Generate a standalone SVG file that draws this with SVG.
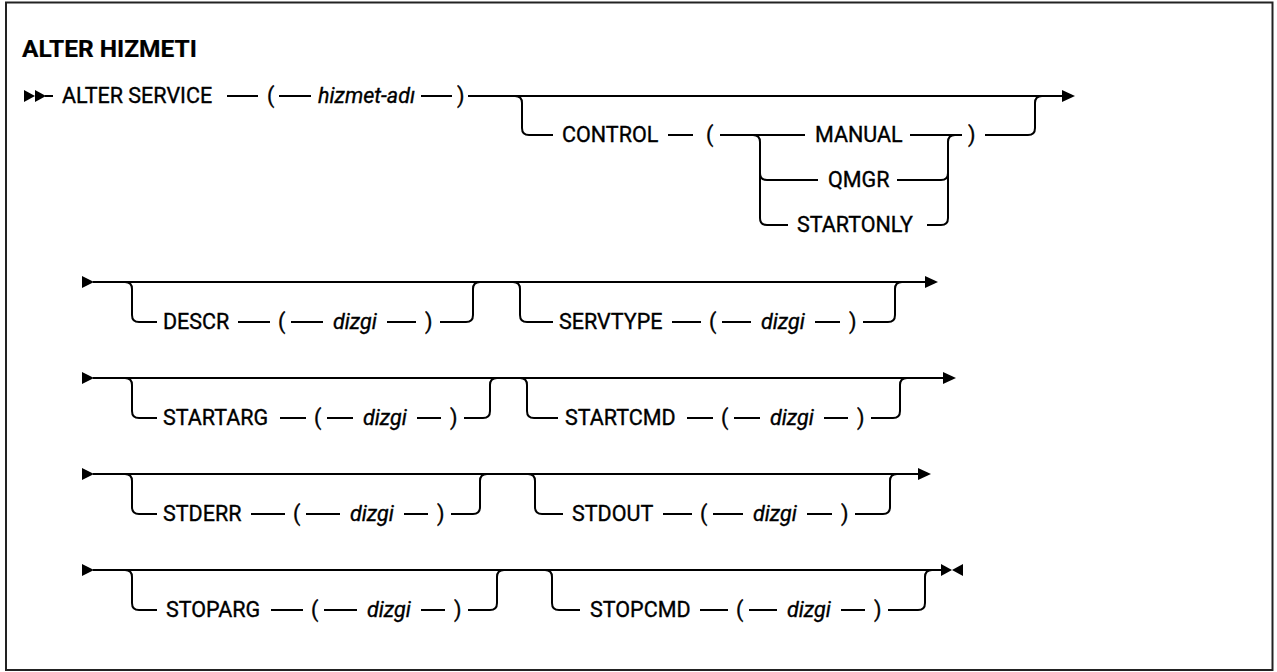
<svg xmlns="http://www.w3.org/2000/svg" width="1277" height="672" viewBox="0 0 1277 672">
<style>
.t{font-family:Roboto,"Liberation Sans",sans-serif;font-size:21.5px;fill:#000;stroke:#000;stroke-width:0.35px}
.v{font-style:italic}
.h{font-weight:bold;font-size:24.5px;stroke-width:0.2px}
.c{fill:none;stroke:#000;stroke-width:2}
.a{fill:#000}
</style>
<rect x="6" y="2.5" width="1266.5" height="667.5" fill="#fff" stroke="#222" stroke-width="2"/>
<text class="t h" x="22" y="57">ALTER HIZMETI</text>
<g id="connectors">
<!-- row 1 -->
<polygon class="a" points="24,90 35,96 24,102"/>
<polygon class="a" points="35,90 46,96 35,102"/>
<path class="c" d="M45 96H53M227 96H258M279 96H311M421 96H452M468 96H1062"/>
<polygon class="a" points="1062,90 1075,96 1062,102"/>
<path class="c" d="M515 96Q522 96 522 103V128Q522 135 529 135H553M668 135H693M720 135H805"/>
<path class="c" d="M753 135Q760 135 760 142V218Q760 225 767 225H788M760 173Q760 180 767 180H818"/>
<path class="c" d="M910 135H962M897 180H941Q948 180 948 173M927 225H941Q948 225 948 218V142Q948 135 955 135"/>
<path class="c" d="M985 135H1028Q1035 135 1035 128V103Q1035 96 1042 96"/>
<!-- row 2 -->
<polygon class="a" points="82,276 94,282 82,288"/>
<path class="c" d="M93 282H925"/>
<polygon class="a" points="925,276 938,282 925,288"/>
<path class="c" d="M125 282Q132 282 132 289V315Q132 322 139 322H157M238 322H270M291 322H323M387 322H416M440 322H466Q473 322 473 315V289Q473 282 480 282"/>
<path class="c" d="M513 282Q520 282 520 289V315Q520 322 527 322H553M672 322H701M722 322H751M815 322H840M863 322H888Q895 322 895 315V289Q895 282 902 282"/>
<!-- row 3 -->
<polygon class="a" points="82,372 94,378 82,384"/>
<path class="c" d="M93 378H943"/>
<polygon class="a" points="943,372 956,378 943,384"/>
<path class="c" d="M125 378Q132 378 132 385V411Q132 418 139 418H157M280 418H306M327 418H353M417 418H441M464 418H483Q490 418 490 411V385Q490 378 497 378"/>
<path class="c" d="M520 378Q527 378 527 385V411Q527 418 534 418H558M687 418H713M734 418H760M824 418H848M871 418H893Q900 418 900 411V385Q900 378 907 378"/>
<!-- row 4 -->
<polygon class="a" points="82,468 94,474 82,480"/>
<path class="c" d="M93 474H918"/>
<polygon class="a" points="918,468 931,474 918,480"/>
<path class="c" d="M125 474Q132 474 132 481V507Q132 514 139 514H157M251 514H285M306 514H340M404 514H428M451 514H473Q480 514 480 507V481Q480 474 487 474"/>
<path class="c" d="M528 474Q535 474 535 481V507Q535 514 542 514H563M663 514H692M713 514H743M807 514H832M855 514H883Q890 514 890 507V481Q890 474 897 474"/>
<!-- row 5 -->
<polygon class="a" points="82,564 94,570 82,576"/>
<path class="c" d="M93 570H942"/>
<polygon class="a" points="941,564 952,570 941,576"/>
<polygon class="a" points="963,564 952,570 963,576"/>
<path class="c" d="M125 570Q132 570 132 577V603Q132 610 139 610H157M271 610H303M324 610H357M421 610H445M468 610H490Q497 610 497 603V577Q497 570 504 570"/>
<path class="c" d="M545 570Q552 570 552 577V603Q552 610 559 610H580M700 610H728M749 610H777M841 610H865M888 610H918Q925 610 925 603V577Q925 570 932 570"/>
</g>
<g id="n-alter-service">
<text class="t" x="62" y="103">ALTER SERVICE</text>
<text class="t" x="267" y="103">(</text>
<text class="t v" x="318" y="103">hizmet-adı</text>
<text class="t" x="457" y="103">)</text>
</g>
<g id="n-control">
<text class="t" x="562" y="142">CONTROL</text>
<text class="t" x="706" y="142">(</text>
<text class="t" x="968" y="142">)</text>
</g>
<g id="n-manual"><text class="t" x="815" y="142">MANUAL</text></g>
<g id="n-qmgr"><text class="t" x="828" y="187">QMGR</text></g>
<g id="n-startonly"><text class="t" x="797" y="232">STARTONLY</text></g>
<g id="n-descr">
<text class="t" x="163" y="329">DESCR</text>
<text class="t" x="278" y="329">(</text>
<text class="t v" x="333" y="329">dizgi</text>
<text class="t" x="425" y="329">)</text>
</g>
<g id="n-servtype">
<text class="t" x="559" y="329">SERVTYPE</text>
<text class="t" x="709" y="329">(</text>
<text class="t v" x="761" y="329">dizgi</text>
<text class="t" x="849" y="329">)</text>
</g>
<g id="n-startarg">
<text class="t" x="163" y="425">STARTARG</text>
<text class="t" x="314" y="425">(</text>
<text class="t v" x="363" y="425">dizgi</text>
<text class="t" x="450" y="425">)</text>
</g>
<g id="n-startcmd">
<text class="t" x="565" y="425">STARTCMD</text>
<text class="t" x="721" y="425">(</text>
<text class="t v" x="770" y="425">dizgi</text>
<text class="t" x="857" y="425">)</text>
</g>
<g id="n-stderr">
<text class="t" x="163" y="521">STDERR</text>
<text class="t" x="293" y="521">(</text>
<text class="t v" x="350" y="521">dizgi</text>
<text class="t" x="437" y="521">)</text>
</g>
<g id="n-stdout">
<text class="t" x="572" y="521">STDOUT</text>
<text class="t" x="700" y="521">(</text>
<text class="t v" x="753" y="521">dizgi</text>
<text class="t" x="841" y="521">)</text>
</g>
<g id="n-stoparg">
<text class="t" x="166" y="617">STOPARG</text>
<text class="t" x="311" y="617">(</text>
<text class="t v" x="367" y="617">dizgi</text>
<text class="t" x="454" y="617">)</text>
</g>
<g id="n-stopcmd">
<text class="t" x="590" y="617">STOPCMD</text>
<text class="t" x="736" y="617">(</text>
<text class="t v" x="787" y="617">dizgi</text>
<text class="t" x="874" y="617">)</text>
</g>
</svg>
